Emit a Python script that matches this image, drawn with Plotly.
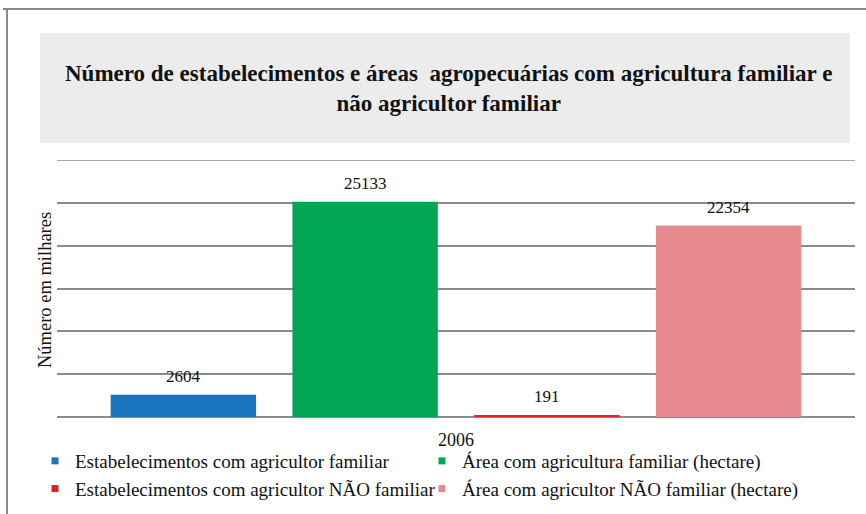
import plotly.graph_objects as go

categories = ["2006"]
series_names = [
    "Estabelecimentos com agricultor familiar",
    "Área com agricultura familiar (hectare)",
    "Estabelecimentos com agricultor NÃO familiar",
    "Área com agricultor NÃO familiar (hectare)",
]
series_values = [[2604], [25133], [191], [22354]]
series_colors = ["#1a75c0", "#00a651", "#e31e24", "#e68a8e"]
title_text = ("Número de estabelecimentos e áreas  agropecuárias com agricultura familiar e"
              "<br>não agricultor familiar")
y_title = "Número em milhares"
y_max = 30000
y_step = 5000

SERIF = "Liberation Serif"
BARGAP = 0.089
BARGROUPGAP = 0.2
GRID = "#8c8c8c"

W, H = 866, 514
L, R, T, B = 57, 11, 160, 97
PW, PH = W - L - R, H - T - B


def px(x):
    return (x - L) / PW


def py(y):
    return 1 + (T - y) / PH


fig = go.Figure()
n = len(series_names)
slot = (1 - BARGAP) / n
annotations = []
for i, (name, vals, col) in enumerate(zip(series_names, series_values, series_colors)):
    fig.add_trace(go.Bar(
        x=categories, y=vals, name=name, showlegend=False,
        marker=dict(color=col, line=dict(width=0)),
    ))
    # legend proxy with small square marker
    fig.add_trace(go.Scatter(
        x=categories, y=[None], name=name, mode="markers",
        marker=dict(symbol="square", size=7, color=col),
        showlegend=True, hoverinfo="skip",
    ))
    for j, v in enumerate(vals):
        annotations.append(dict(
            x=j + (i - (n - 1) / 2) * slot, y=v, xref="x", yref="y",
            text=str(v), showarrow=False, xanchor="center", yanchor="middle",
            yshift=18.5, font=dict(family=SERIF, size=17, color="#111111"),
        ))

annotations += [
    dict(text="<b>" + title_text + "</b>", xref="paper", yref="paper",
         x=px(448), y=py(88),
         xanchor="center", yanchor="middle", showarrow=False,
         font=dict(family=SERIF, size=23, color="#111111")),
    dict(text=y_title, xref="paper", yref="paper",
         x=px(45), y=py(290),
         xanchor="center", yanchor="middle", showarrow=False, textangle=-90,
         font=dict(family=SERIF, size=18.5, color="#111111")),
]

fig.update_layout(
    width=W, height=H,
    margin=dict(l=L, r=R, t=T, b=B, autoexpand=False),
    paper_bgcolor="white", plot_bgcolor="white",
    barmode="group", bargap=BARGAP, bargroupgap=BARGROUPGAP,
    showlegend=True,
    legend=dict(
        orientation="h", x=px(35), xanchor="left",
        y=py(442), yanchor="top",
        entrywidth=342, entrywidthmode="pixels",
        font=dict(family=SERIF, size=19, color="#111111"),
        traceorder="normal", bgcolor="rgba(0,0,0,0)",
    ),
    font=dict(family=SERIF, size=17, color="#111111"),
    xaxis=dict(showgrid=False, showline=False, zeroline=False,
               ticks="", ticklabelstandoff=10,
               tickfont=dict(family=SERIF, size=18, color="#111111")),
    yaxis=dict(range=[0, y_max], dtick=y_step, showticklabels=False,
               showgrid=True, gridcolor=GRID, gridwidth=1.5,
               zeroline=True, zerolinecolor=GRID, zerolinewidth=1.5,
               showline=False, ticks=""),
    shapes=[
        dict(type="rect", xref="paper", yref="paper",
             x0=px(40), x1=px(850), y0=py(33), y1=py(143),
             fillcolor="#ececec", line=dict(width=0), layer="below"),
        # top gridline at the axis maximum (plotly omits the edge gridline)
        dict(type="line", xref="paper", yref="y",
             x0=0, x1=1, y0=y_max, y1=y_max,
             line=dict(color=GRID, width=1.5), layer="below"),
        dict(type="line", xref="paper", yref="paper",
             x0=px(3), x1=px(W), y0=py(9), y1=py(9),
             line=dict(color="#8a8a8a", width=2)),
        dict(type="line", xref="paper", yref="paper",
             x0=px(7), x1=px(7), y0=py(9), y1=py(H),
             line=dict(color="#8a8a8a", width=2)),
    ],
    annotations=annotations,
)

fig.write_html("out.html", config={"displayModeBar": False},
               post_script="document.body.style.margin='0px';")
